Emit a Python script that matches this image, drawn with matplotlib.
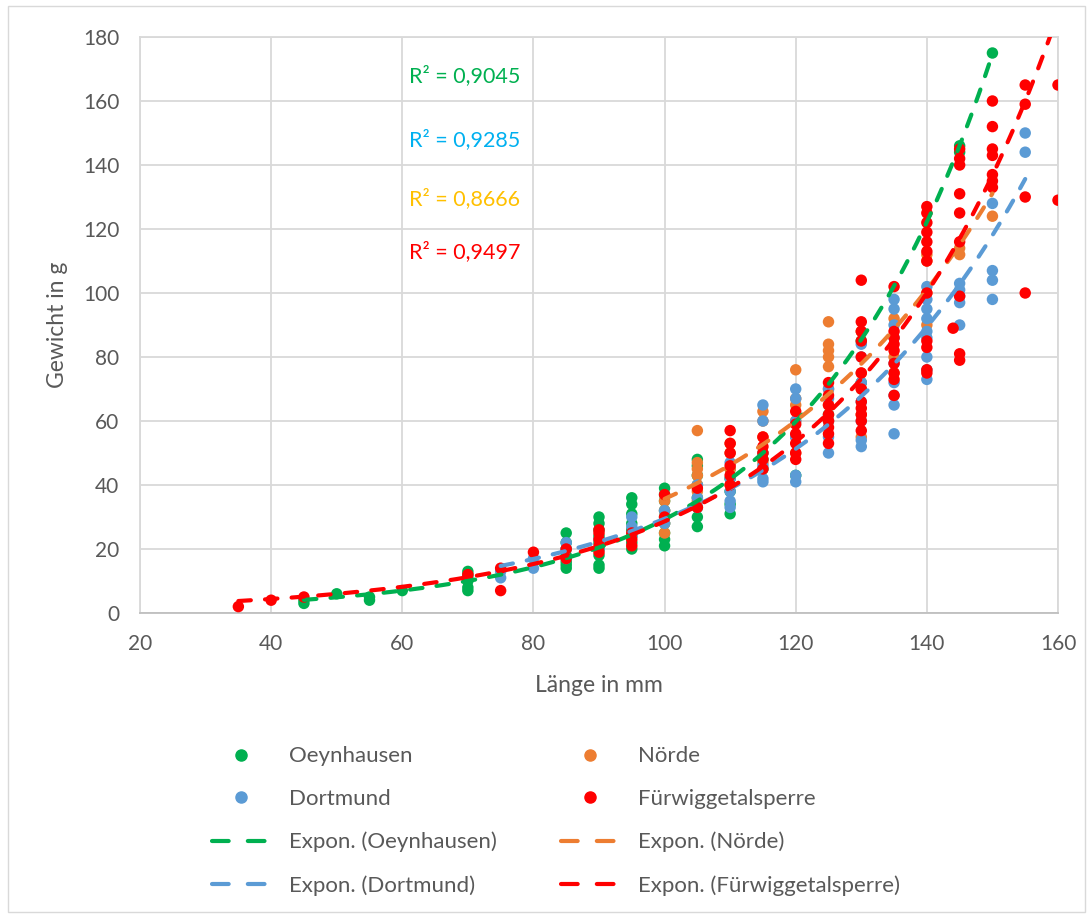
import numpy as np
import matplotlib
matplotlib.use("Agg")
import matplotlib.pyplot as plt
from matplotlib.lines import Line2D
from matplotlib.patches import Rectangle

plt.rcParams['font.family'] = ['Lato', 'DejaVu Sans']

# ---------------- data ----------------
oey_x = [45, 45, 50, 55, 55, 60,
         70, 70, 70, 70, 70, 70,
         85, 85, 85, 85, 85, 85, 85,
         90, 90, 90, 90, 90, 90, 90, 90, 90,
         95, 95, 95, 95, 95, 95, 95, 95,
         100, 100, 100, 100, 100, 100, 100, 100, 100,
         105, 105, 105, 105, 105, 105, 105, 105,
         110, 110, 110, 110, 110,
         115, 115, 120, 125, 130, 130, 145, 145, 150]
oey_y = [3, 4, 6, 4, 5, 7,
         7, 8, 10, 11, 12, 13,
         14, 15, 16, 18, 20, 22, 25,
         14, 15, 18, 20, 22, 24, 26, 28, 30,
         20, 22, 24, 26, 28, 31, 34, 36,
         21, 23, 25, 28, 30, 32, 35, 37, 39,
         27, 30, 33, 36, 40, 43, 46, 48,
         31, 34, 38, 42, 45,
         45, 48, 43, 62, 72, 85, 144, 146, 175]

nor_x = [100, 100, 100, 100,
         105, 105, 105, 105, 105, 105, 105,
         110, 110, 110, 110,
         115, 115, 115, 115, 115,
         120, 120, 120, 120, 120, 120,
         125, 125, 125, 125, 125, 125, 125, 125,
         130, 130, 130, 130, 130,
         135, 135, 135,
         140, 140, 140, 140,
         145, 145, 150]
nor_y = [25, 28, 32, 35,
         35, 38, 40, 43, 45, 47, 57,
         40, 45, 50, 53,
         47, 50, 55, 60, 63,
         50, 55, 60, 65, 67, 76,
         60, 65, 70, 77, 80, 82, 84, 91,
         55, 62, 70, 75, 88,
         75, 80, 92,
         90, 100, 110, 112,
         112, 114, 124]

dor_x = [75, 75, 80, 80, 85, 85, 85, 90, 90,
         95, 95, 95, 100, 100,
         105, 105, 105,
         110, 110, 110, 110, 110,
         115, 115, 115, 115, 115, 115,
         120, 120, 120, 120, 120, 120,
         125, 125, 125, 125, 125,
         130, 130, 130, 130, 130, 130, 130,
         135, 135, 135, 135, 135, 135, 135, 135, 135,
         140, 140, 140, 140, 140, 140, 140, 140, 140,
         145, 145, 145, 145, 145,
         150, 150, 150, 150,
         155, 155]
dor_y = [11, 13, 14, 17, 17, 20, 22, 20, 23,
         24, 27, 30, 28, 32,
         33, 36, 40,
         33, 35, 38, 42, 47,
         41, 42, 46, 50, 60, 65,
         41, 43, 55, 60, 67, 70,
         50, 55, 60, 67, 70,
         52, 54, 60, 66, 72, 80, 84,
         56, 65, 68, 72, 78, 86, 90, 95, 98,
         73, 76, 80, 86, 88, 92, 95, 98, 102,
         90, 97, 99, 101, 103,
         98, 104, 107, 128,
         144, 150]

fur_x = [35, 40, 45, 70, 75, 75, 80, 85, 85,
         90, 90, 90, 90, 90,
         95, 95, 95,
         100, 100, 105, 105,
         110, 110, 110, 110, 110, 110,
         115, 115, 115, 115, 115,
         120, 120, 120, 120, 120, 120,
         125, 125, 125, 125, 125, 125, 125, 125,
         130, 130, 130, 130, 130, 130, 130, 130, 130, 130, 130, 130,
         135, 135, 135, 135, 135, 135, 135, 135, 135,
         140, 140, 140, 140, 140, 140, 140, 140, 140, 140, 140, 140,
         144,
         145, 145, 145, 145, 145, 145, 145, 145, 145,
         150, 150, 150, 150, 150, 150, 150,
         155, 155, 155, 155,
         160, 160]
fur_y = [2, 4, 5, 12, 7, 14, 19, 17, 20,
         19, 21, 23, 25, 26,
         21, 23, 25,
         30, 37, 33, 39,
         40, 43, 46, 50, 53, 57,
         45, 48, 50, 52, 55,
         48, 50, 53, 56, 59, 63,
         53, 56, 58, 60, 62, 65, 68, 72,
         57, 60, 62, 64, 66, 70, 75, 80, 85, 88, 91, 104,
         68, 73, 75, 78, 82, 84, 86, 88, 102,
         75, 76, 83, 85, 100, 110, 113, 116, 119, 122, 125, 127,
         89,
         79, 81, 99, 116, 125, 131, 140, 142, 145,
         133, 135, 137, 143, 145, 152, 160,
         100, 130, 159, 165,
         129, 165]

series_names = ["Oeynhausen", "Nörde", "Dortmund", "Fürwiggetalsperre"]
series_x = [oey_x, nor_x, dor_x, fur_x]
series_y = [oey_y, nor_y, dor_y, fur_y]
colors = ["#00B050", "#ED7D31", "#5B9BD5", "#FF0000"]

r2_texts = ["R² = 0,9045", "R² = 0,9285", "R² = 0,8666", "R² = 0,9497"]
r2_colors = ["#00B050", "#00B0F0", "#FFC000", "#FF0000"]
r2_y = [168, 148, 129.5, 113]

x_ticks = [20, 40, 60, 80, 100, 120, 140, 160]
y_ticks = [0, 20, 40, 60, 80, 100, 120, 140, 160, 180]

# ---------------- figure ----------------
fig = plt.figure(figsize=(10.9, 9.17), dpi=100)
ax = fig.add_axes([140/1090, 1-613/917, (1058-140)/1090, (613-37)/917])

grid_c = "#D9D9D9"
text_c = "#595959"

dash = (0, (3.0, 3.4))
leg_dash = (0, (4.0, 4.6))
lw = 3.0

for name, xs, ys, c in zip(series_names, series_x, series_y, colors):
    ax.scatter(xs, ys, s=68, color=c, edgecolors='none', zorder=3)

for name, xs, ys, c in zip(series_names, series_x, series_y, colors):
    xs_a = np.asarray(xs, float)
    ys_a = np.asarray(ys, float)
    b, lna = np.polyfit(xs_a, np.log(ys_a), 1)
    xx = np.linspace(xs_a.min(), xs_a.max(), 200)
    ax.plot(xx, np.exp(lna) * np.exp(b * xx), color=c, lw=lw,
            linestyle=dash, dash_capstyle='round', zorder=4)

for t, c, yy in zip(r2_texts, r2_colors, r2_y):
    ax.text(61, yy, t, color=c, fontsize=15.5, ha='left', va='center', zorder=5)

ax.set_xlim(20, 160)
ax.set_ylim(0, 180)
ax.set_xticks(x_ticks)
ax.set_yticks(y_ticks)
ax.grid(True, color=grid_c, lw=1.3, zorder=0)
ax.set_axisbelow(True)
for s in ax.spines.values():
    s.set_color(grid_c)
    s.set_linewidth(1.3)
ax.spines['bottom'].set_color("#BFBFBF")
ax.tick_params(length=0, labelsize=15, colors=text_c, pad=15)
ax.set_xlabel("Länge in mm", fontsize=16.5, color=text_c, labelpad=15)
ax.set_ylabel("Gewicht in g", fontsize=16.5, color=text_c, labelpad=11)

handles = []
for name, c in zip(series_names, colors):
    handles.append(Line2D([], [], marker='o', ls='none', color=c,
                          markersize=8, label=name))
trend_handles = []
for name, c in zip(series_names, colors):
    trend_handles.append(Line2D([], [], color=c, lw=lw, linestyle=leg_dash,
                                dash_capstyle='round', label="Expon. (" + name + ")"))
# column-wise order for ncol=2
order = [handles[0], handles[2], trend_handles[0], trend_handles[2],
         handles[1], handles[3], trend_handles[1], trend_handles[3]]
leg = fig.legend(handles=order, labels=[h.get_label() for h in order],
                 ncol=2, loc='center', bbox_to_anchor=(0.510, 1-821/917),
                 frameon=False, fontsize=16, labelcolor=text_c,
                 handlelength=2.6, handletextpad=0.85, columnspacing=2.9,
                 labelspacing=1.02)

fig.patches.append(Rectangle((8/1090, 5/917), 1077/1090, 906/917, fill=False,
                             edgecolor=grid_c, lw=1.0, transform=fig.transFigure))

fig.savefig("out.png", dpi=100)
